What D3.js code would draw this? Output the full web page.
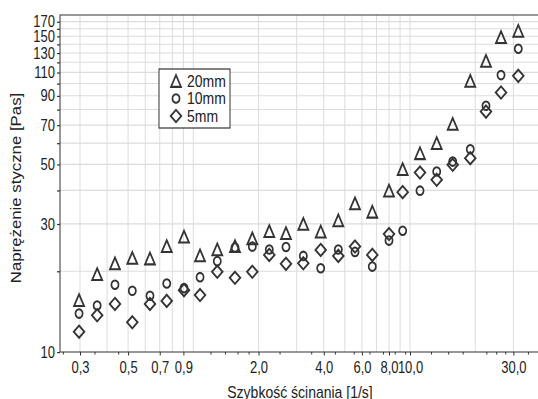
<!DOCTYPE html>
<html>
<head>
<meta charset="utf-8">
<script src="https://cdn.jsdelivr.net/npm/d3@7"></script>
<style>
  body { margin: 0; background: #fff; }
  svg { display: block; font-family: "Liberation Sans", Arial, sans-serif; }
</style>
</head>
<body>
<div class="chart"></div>
<script>
// shear rate [1/s]
const shearRate = [0.297, 0.360, 0.435, 0.523, 0.631, 0.754, 0.906, 1.074, 1.290, 1.557,
  1.872, 2.242, 2.677, 3.218, 3.872, 4.668, 5.573, 6.699, 8.00, 9.25,
  11.12, 13.28, 15.74, 18.97, 22.42, 26.30, 31.6];

// shear stress [Pas] per gap
const stress20 = [15.6, 19.5, 21.4, 22.4, 22.3, 24.8, 26.9, 22.9, 24.1, 24.8,
  26.5, 28.2, 27.7, 30.0, 28.1, 30.9, 35.8, 33.3, 39.9, 48.0,
  55.0, 60.0, 70.8, 102.3, 121.5, 148.9, 157.2];
const stress10 = [13.9, 14.9, 17.8, 16.9, 16.2, 18.0, 17.3, 19.0, 21.8, 24.5,
  24.7, 24.1, 24.6, 22.8, 20.5, 24.1, 23.6, 20.8, 26.0, 28.3,
  39.9, 47.0, 51.2, 56.9, 82.6, 107.5, 134.7];
const stress5 = [11.9, 13.7, 15.1, 12.9, 15.1, 15.5, 17.0, 16.3, 19.9, 18.9,
  19.9, 23.0, 21.3, 21.4, 24.0, 22.8, 24.7, 23.0, 27.5, 39.4,
  46.6, 43.8, 49.8, 52.7, 78.6, 92.6, 106.8];

const seriesNames = ["20mm", "10mm", "5mm"];
const seriesShapes = ["triangle", "circle", "diamond"];

const xLabelTicks = [0.3, 0.5, 0.7, 0.9, 2, 4, 6, 8, 10, 30];
const xGridTicks = [0.3, 0.4, 0.5, 0.6, 0.7, 0.8, 0.9, 1, 2, 3, 4, 5, 6, 7, 8, 9, 10, 20, 30];
const xMinorTicks = [0.25, 0.35, 0.45, 1.2, 1.4, 1.6, 1.8, 2.5, 3.5, 4.5, 5.5, 6.5, 7.5, 8.5, 9.5,
  12.5, 15, 17.5, 22.5, 25, 27.5, 35];
const yLabelTicks = [10, 30, 50, 70, 90, 110, 130, 150, 170];
const yGridTicks = [20, 30, 40, 50, 60, 70, 80, 90, 100, 110, 120, 130, 140, 150, 160, 170];

const width = 538, height = 399;
const stretch = 1.2;   // the source picture is stretched vertically
const ink = "#333";

const svg = d3.select(".chart").append("svg")
  .attr("width", width)
  .attr("height", height);

const root = svg.append("g").attr("transform", `scale(1,${stretch})`);

const plotLeft = 60, plotRight = 540;
const plotTop = 15 / stretch, plotBottom = 352 / stretch;

let x = d3.scaleLog().domain([0.3, 30]).range([80, 513.4]);
x = d3.scaleLog().domain([x.invert(plotLeft), x.invert(plotRight)]).range([plotLeft, plotRight]);

const y = d3.scaleLog().domain([10, 180]).range([plotBottom, plotTop]);

const fmt = d3.formatLocale({ decimal: ",", thousands: " ", grouping: [3], currency: ["", ""] }).format(".1f");

// grid
root.append("g")
  .selectAll("line")
  .data(xGridTicks)
  .join("line")
  .attr("x1", d => x(d)).attr("x2", d => x(d))
  .attr("y1", plotTop).attr("y2", plotBottom)
  .attr("stroke", "#dcdcdc").attr("stroke-width", 1);

root.append("g")
  .selectAll("line")
  .data(yGridTicks)
  .join("line")
  .attr("x1", plotLeft).attr("x2", width)
  .attr("y1", d => y(d)).attr("y2", d => y(d))
  .attr("stroke", "#dcdcdc").attr("stroke-width", 1 / stretch * 1.1);

// axes
const xAxis = root.append("g")
  .attr("transform", `translate(0,${plotBottom})`)
  .call(d3.axisBottom(x).tickValues(xLabelTicks).tickSize(3).tickPadding(5).tickFormat(fmt))
  .call(g => g.select(".domain").remove());
xAxis.attr("font-size", 13).attr("font-family", null);
xAxis.selectAll(".tick line").attr("stroke", ink);
xAxis.selectAll("text").attr("fill", "#222");

root.append("g")
  .attr("transform", `translate(0,${plotBottom})`)
  .call(d3.axisBottom(x).tickValues(xMinorTicks).tickSize(2).tickFormat(""))
  .call(g => g.select(".domain").remove())
  .selectAll(".tick line").attr("stroke", ink);

const yAxis = root.append("g")
  .attr("transform", `translate(${plotLeft},0)`)
  .call(d3.axisLeft(y).tickValues([10].concat(yGridTicks)).tickSize(3).tickPadding(2)
    .tickFormat(d => yLabelTicks.includes(d) ? d : ""))
  .call(g => g.select(".domain").remove());
yAxis.attr("font-size", 13).attr("font-family", null);
yAxis.selectAll(".tick line").attr("stroke", ink);
yAxis.selectAll("text").attr("fill", "#222");

// frame
root.append("path")
  .attr("d", `M${width},${plotTop}H${plotLeft}V${plotBottom}H${width}`)
  .attr("fill", "none")
  .attr("stroke", ink)
  .attr("stroke-width", 1);

// markers
const markerPath = {
  triangle: "M0,-4.9L5,4.9L-5,4.9Z",
  circle: d3.symbol(d3.symbolCircle, 40)(),
  diamond: "M0,-5.1L5.3,0L0,5.1L-5.3,0Z"
};

const series = [stress20, stress10, stress5];

series.forEach((vals, i) => {
  root.append("g")
    .selectAll("path")
    .data(vals.map((v, j) => [shearRate[j], v]))
    .join("path")
    .attr("transform", d => `translate(${x(d[0])},${y(d[1])})`)
    .attr("d", markerPath[seriesShapes[i]])
    .attr("fill", "none")
    .attr("stroke", ink)
    .attr("stroke-width", 1.7);
});

// legend
const legend = root.append("g");
legend.append("rect")
  .attr("x", 159).attr("y", 69 / stretch)
  .attr("width", 71).attr("height", 59 / stretch)
  .attr("fill", "#fff")
  .attr("stroke", ink)
  .attr("stroke-width", 1);

seriesNames.forEach((name, i) => {
  const ly = (81 + i * 17.5) / stretch;
  legend.append("path")
    .attr("transform", `translate(176,${ly})`)
    .attr("d", markerPath[seriesShapes[i]])
    .attr("fill", "none")
    .attr("stroke", ink)
    .attr("stroke-width", 1.7);
  legend.append("text")
    .attr("x", 187).attr("y", ly)
    .attr("dy", "0.35em")
    .attr("font-size", 14)
    .attr("fill", "#222")
    .text(name);
});

// axis titles
root.append("text")
  .attr("x", 300).attr("y", 398.5 / stretch)
  .attr("text-anchor", "middle")
  .attr("font-size", 14)
  .attr("fill", "#222")
  .text("Szybkość ścinania [1/s]");

root.append("text")
  .attr("transform", `translate(21,${188 / stretch}) rotate(-90)`)
  .attr("text-anchor", "middle")
  .attr("font-size", 14)
  .attr("fill", "#222")
  .text("Naprężenie styczne [Pas]");
</script>
</body>
</html>
